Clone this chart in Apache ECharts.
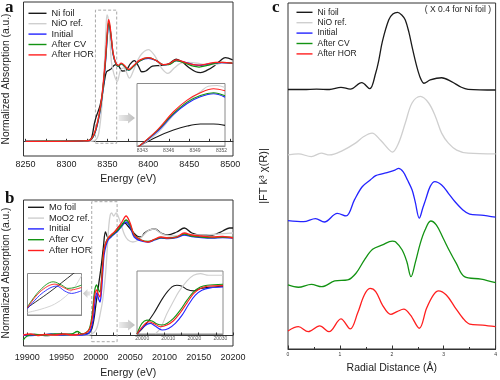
<!DOCTYPE html>
<html><head><meta charset="utf-8">
<script src="https://cdn.jsdelivr.net/npm/echarts@6/dist/echarts.min.js"></script>
<style>html,body{margin:0;padding:0;background:#fff}#c{width:500px;height:380px}</style>
</head><body><div id="c"></div>
<script>
// ---------- Panel a: Ni K-edge XANES (Energy eV, normalized absorption) ----------
const aLabels = [8250, 8300, 8350, 8400, 8450, 8500];
const aTicks = [8250,8275,8300,8325,8350,8375,8400,8425,8450,8475,8500];
const aNames = ['Ni foil', 'NiO ref.', 'Initial', 'After CV', 'After HOR'];
const aNiFoil = [[8250,0],[8300,0],[8326,0.005],[8330,0.03],[8332,0.1],[8334,0.22],[8336,0.3],[8338,0.36],[8341,0.45],[8344,0.6],[8347,0.8],[8349,0.88],[8352,0.9],[8355,0.92],[8358,0.96],[8361,0.97],[8364,0.95],[8368,0.89],[8373,0.9],[8378,0.98],[8383,1.02],[8388,0.95],[8392,0.88],[8397,0.89],[8405,0.95],[8415,0.96],[8425,0.98],[8434,1.04],[8442,1.0],[8450,0.93],[8458,0.88],[8464,0.87],[8472,0.9],[8480,0.95],[8488,1.02],[8494,1.06],[8503,1.03]];
const aNiO = [[8250,0],[8330,0],[8336,0.02],[8339,0.08],[8342,0.3],[8344,0.55],[8346,0.9],[8348,1.35],[8349.5,1.6],[8351,1.55],[8353,1.3],[8355,1.0],[8358,0.85],[8362,0.76],[8366,0.9],[8370,0.93],[8373,0.88],[8377,0.8],[8382,0.9],[8390,1.08],[8400,1.16],[8408,1.08],[8416,0.93],[8424,0.86],[8432,0.93],[8440,0.99],[8450,1.0],[8460,0.99],[8470,0.97],[8480,0.97],[8490,0.99],[8503,1.0]];
const aInitial = [[8250,0],[8290,0],[8320,0.004],[8328,0.01],[8331,0.03],[8334,0.085],[8337,0.18],[8340,0.32],[8343,0.52],[8346,0.8],[8348,1.04],[8350,1.34],[8351.5,1.48],[8353,1.44],[8355,1.27],[8357,1.1],[8360,0.99],[8363,0.95],[8367,0.98],[8371,0.95],[8376,0.9],[8382,0.95],[8390,1.02],[8400,1.05],[8410,1.02],[8418,0.97],[8425,0.975],[8434,1.02],[8445,1.0],[8455,0.97],[8462,0.96],[8472,0.975],[8482,0.99],[8490,0.995],[8503,0.985]];
const aAfterCV = [[8250,0],[8290,0.003],[8320,0.005],[8328,0.01],[8331,0.035],[8334,0.09],[8337,0.19],[8340,0.33],[8343,0.53],[8346,0.82],[8348,1.06],[8350,1.36],[8351.5,1.5],[8353,1.45],[8355,1.28],[8357,1.11],[8360,0.99],[8363,0.95],[8367,0.98],[8371,0.95],[8376,0.9],[8382,0.95],[8390,1.02],[8400,1.06],[8410,1.02],[8418,0.97],[8425,0.97],[8434,1.02],[8445,0.99],[8455,0.95],[8462,0.94],[8472,0.96],[8482,0.99],[8490,1.0],[8503,0.99]];
const aAfterHOR = [[8250,0],[8290,0],[8320,0.005],[8328,0.01],[8331,0.04],[8334,0.1],[8337,0.2],[8340,0.35],[8343,0.55],[8346,0.85],[8348,1.1],[8350,1.4],[8351.5,1.54],[8353,1.48],[8355,1.3],[8357,1.12],[8360,1.0],[8363,0.96],[8367,0.99],[8371,0.96],[8376,0.91],[8382,0.96],[8390,1.03],[8400,1.06],[8410,1.02],[8418,0.97],[8425,0.98],[8434,1.03],[8445,1.0],[8455,0.97],[8462,0.965],[8472,0.98],[8482,1.0],[8490,1.0],[8503,0.99]];
const aBox = [8335.4, 8361.4, -0.025, 1.66];
// inset a (8343-8352 eV, relative units)
const aInLabels = [8343, 8346, 8349, 8352];
const aInNiFoil = [[8342.5,-1],[8344.7,14.9],[8346.55,25.5],[8348.1,31.9],[8349.6,35.1],[8351.1,35.1],[8352.4,33]];
const aInNiO = [[8342.5,-2],[8344.7,20.2],[8346.55,49.5],[8348.1,70.7],[8349.6,86.7],[8350.5,95.7],[8351.5,96.8],[8352.4,93.6]];
const aInInitial = [[8342.5,-2],[8344.7,22.9],[8346.55,50.5],[8348.1,68.1],[8349.6,78.7],[8351.1,83.5],[8352.4,78.2]];
const aInAfterCV = [[8342.5,-2],[8344.7,24.5],[8346.55,52.1],[8348.1,70.2],[8349.6,80.9],[8351.1,85.1],[8352.4,80.3]];
const aInAfterHOR = [[8342.5,-2],[8344.7,25.5],[8346.55,54.8],[8348.1,73.4],[8349.6,85.1],[8351.1,91.5],[8352.4,88.3]];

// ---------- Panel b: Mo K-edge XANES ----------
const bLabels = [19900, 19950, 20000, 20050, 20100, 20150, 20200];
const bTicks = [19900,19925,19950,19975,20000,20025,20050,20075,20100,20125,20150,20175,20200];
const bNames = ['Mo foil', 'MoO2 ref.', 'Initial', 'After CV', 'After HOR'];
const bMoFoil = [[19894,0],[19910,0.005],[19930,-0.005],[19950,0.01],[19970,0.0],[19985,0.01],[19990,0.02],[19994,0.06],[19997,0.15],[20000,0.3],[20004,0.5],[20008,0.7],[20011,0.88],[20014,1.03],[20017,0.98],[20020,0.97],[20024,1.0],[20030,1.05],[20036,1.1],[20042,1.12],[20048,1.08],[20054,1.03],[20060,0.99],[20066,0.98],[20071,1.02],[20078,1.05],[20086,1.06],[20095,1.02],[20105,1.0],[20118,1.03],[20129,1.07],[20140,1.02],[20154,1.0],[20170,1.0],[20185,1.04],[20195,1.07],[20200,1.07]];
const bMoO2 = [[19894,0],[19950,0.0],[19990,0.0],[19998,0.03],[20002,0.08],[20006,0.2],[20010,0.35],[20014,0.6],[20017,0.9],[20019,1.1],[20021,1.2],[20023,1.22],[20026,1.19],[20029.5,1.22],[20033,1.18],[20037,1.1],[20042,1.0],[20047,0.95],[20054,0.93],[20062,0.95],[20071,1.01],[20078,1.05],[20086,1.06],[20092,1.03],[20100,1.0],[20115,0.99],[20130,1.0],[20154,1.0],[20178,1.01],[20200,1.02]];
const bInitial = [[19894,0.0],[19905,-0.005],[19920,0.0],[19935,0.01],[19950,0.0],[19965,0.005],[19980,0.0],[19988,0.01],[19992,0.04],[19996,0.15],[19999,0.35],[20001.5,0.42],[20004,0.36],[20006,0.33],[20008,0.42],[20010,0.62],[20012,0.8],[20015,0.9],[20018,0.95],[20022,0.98],[20027,1.01],[20032,1.04],[20038,1.09],[20044,1.13],[20050,1.08],[20056,0.98],[20066,0.94],[20076,0.93],[20086,0.95],[20095,0.97],[20105,0.965],[20118,0.975],[20129,1.0],[20140,0.985],[20154,0.975],[20170,0.97],[20185,0.975],[20200,0.97]];
const bAfterCV = [[19894,-0.05],[19900,-0.01],[19910,0.005],[19925,0.0],[19940,0.01],[19955,0.005],[19965,0.01],[19973,0.035],[19980,0.01],[19987,0.03],[19991,0.07],[19995,0.22],[19998,0.43],[20001,0.5],[20003.5,0.46],[20006,0.43],[20008,0.53],[20010,0.72],[20012,0.86],[20015,0.93],[20018,0.97],[20022,0.99],[20027,1.02],[20032,1.05],[20038,1.1],[20044,1.15],[20050,1.1],[20056,1.0],[20066,0.95],[20076,0.935],[20086,0.955],[20095,0.975],[20105,0.97],[20118,0.98],[20129,1.01],[20140,0.99],[20154,0.98],[20170,0.975],[20185,0.98],[20200,0.975]];
const bAfterHOR = [[19894,0],[19905,0.01],[19915,-0.005],[19925,0.005],[19940,0.0],[19955,0.01],[19965,0.0],[19975,0.005],[19985,0.02],[19991,0.06],[19995,0.18],[19998,0.38],[20001,0.45],[20003.5,0.41],[20006,0.38],[20008,0.5],[20010,0.7],[20012,0.86],[20015,0.93],[20018,0.97],[20022,1.0],[20027,1.03],[20032,1.07],[20038,1.13],[20044,1.19],[20050,1.12],[20056,1.0],[20066,0.95],[20076,0.93],[20086,0.96],[20095,0.98],[20105,0.97],[20118,0.98],[20129,1.02],[20140,1.0],[20154,0.99],[20170,0.98],[20185,0.985],[20200,0.97]];
const bBox = [19994, 20031, -0.067, 1.333];
// left inset b (pre-edge region, relative units)
const bLMoFoil = [[19998,18],[20003,56],[20008.2,100],[20009,106]];
const bLMoO2 = [[19998,6],[20001,14],[20004,26],[20006.5,45],[20008.5,68],[20010,95]];
const bLInitial = [[19998,15.2],[20001.2,52],[20004.5,69.6],[20006.3,57.6],[20007.8,52],[20010,58.4]];
const bLAfterCV = [[19998,20],[20000.8,60],[20003.7,80],[20005.6,72],[20007,64],[20008.5,66.4],[20010,72]];
const bLAfterHOR = [[19998,17.6],[20000.8,56],[20004.1,74.4],[20006,66.4],[20007.4,60],[20010,66.4]];
// right inset b (20000-20030 eV, relative units)
const bRLabels = [20000, 20010, 20020, 20030];
const bRMoFoil = [[19998,0],[20001.2,14.2],[20004.4,32.6],[20008.2,58.9],[20011.4,74.7],[20013.3,77.4],[20015.3,75.8],[20017.2,70.5],[20019.7,68.4],[20022.3,72.1],[20024.9,73.7],[20031,75.8]];
const bRMoO2 = [[20005,0],[20007,9],[20009.5,32.6],[20012,52],[20014,66.8],[20017.2,84.2],[20019.7,93.2],[20022.3,95.8],[20025.5,93.2],[20031,93.2]];
const bRInitial = [[19998,0],[20000.6,11.6],[20003.1,16.8],[20005,12.6],[20007.6,6.3],[20010.1,8.9],[20012.7,16.8],[20015.3,30],[20017.8,46.8],[20020.4,61.6],[20022.9,69.5],[20026.1,73.2],[20031,74.7]];
const bRAfterCV = [[19998,0],[19999.9,16.8],[20001.8,22.1],[20003.75,20.5],[20005.7,15.8],[20007.6,14.2],[20009.5,16.8],[20012,24.7],[20014.6,37.9],[20017.2,53.7],[20019.7,66.8],[20022.3,74.7],[20024.9,77.4],[20031,78.9]];
const bRAfterHOR = [[19998,0],[20000.6,14.2],[20002.5,19.5],[20004.4,16.8],[20007,11.6],[20009.5,14.2],[20012,21],[20014.6,33.7],[20017.2,49.5],[20019.7,64.2],[20022.3,72.1],[20024.9,75.8],[20031,76.8]];

// ---------- Panel c: FT-EXAFS (R in Å), stacked with offsets ----------
const cNames = ['Ni foil', 'NiO ref.', 'Initial', 'After CV', 'After HOR'];
const cOffsets = [75.0, 56.1, 37.1, 18.5, 5.2];
const cNiFoil = [[0,0],[0.3,0],[0.55,0.1],[0.8,0],[1.02,0.64],[1.2,0.1],[1.42,1.97],[1.575,0.23],[1.69,4.77],[1.75,8.5],[1.82,14.0],[1.94,20.1],[2.02,21.8],[2.11,22.3],[2.2,21.4],[2.26,20.1],[2.33,16.5],[2.39,12.4],[2.45,8.5],[2.51,5.1],[2.56,3.0],[2.62,1.8],[2.74,2.75],[2.96,3.4],[3.15,2.3],[3.34,0.64],[3.47,0.06],[4.0,-0.14]];
const cNiO = [[0,0],[0.2,0.3],[0.45,-0.5],[0.64,0.5],[0.8,0],[1.05,1.25],[1.3,3.4],[1.46,5.3],[1.62,6.3],[1.78,4.3],[1.94,1.6],[2.01,0.8],[2.13,3.4],[2.26,9.2],[2.39,15.0],[2.55,16.9],[2.71,15.0],[2.84,11.1],[2.96,6.3],[3.09,3.4],[3.25,1.4],[3.47,0.5],[4.0,0.3]];
const cInitial = [[0,0],[0.3,-0.3],[0.53,0.6],[0.7,-0.4],[0.95,2.1],[1.12,1.35],[1.28,6.0],[1.43,9.8],[1.59,11.8],[1.69,13.0],[1.81,13.5],[1.94,14.0],[2.06,14.6],[2.13,15.1],[2.22,14.1],[2.3,11.8],[2.39,8.9],[2.45,5.5],[2.53,0.7],[2.6,3.8],[2.65,6.0],[2.74,9.9],[2.83,11.3],[2.96,10.3],[3.09,7.9],[3.21,5.6],[3.37,3.1],[3.5,1.9],[3.72,1.6],[4.0,1.0]];
const cAfterCV = [[0,0],[0.2,-0.66],[0.45,0.2],[0.65,-0.5],[0.9,1.16],[1.15,1.45],[1.31,3.4],[1.47,7.2],[1.63,10.3],[1.82,11.6],[2.01,12.7],[2.07,12.5],[2.2,10.1],[2.29,6.7],[2.37,2.4],[2.45,6.3],[2.55,12.1],[2.64,15.9],[2.75,18.5],[2.86,17.3],[2.99,13.5],[3.12,9.6],[3.24,6.3],[3.4,2.4],[3.72,1.7],[4.0,0.66]];
const cAfterHOR = [[0,0],[0.2,1.24],[0.39,-0.2],[0.61,1.5],[0.79,-0.2],[1.02,3.5],[1.2,0.6],[1.34,5.1],[1.47,10.4],[1.58,12.3],[1.69,11.4],[1.82,7.5],[1.98,4.8],[2.1,5.6],[2.23,6.3],[2.36,4.6],[2.53,0.8],[2.67,6.6],[2.8,10.4],[2.9,11.6],[3.05,10.4],[3.21,7.0],[3.37,3.7],[3.5,2.0],[3.75,1.7],[4.0,1.24]];

const COLORS = ['#1a1a1a', '#cfcfcf', '#2424ff', '#139313', '#ff1f1f'];
const FONT = 'Liberation Sans, Arial, sans-serif';
const plain = v => String(v);

function ln(name, data, ci, idx, w, extra) {
  return Object.assign({
    type: 'line', name: name, data: data, xAxisIndex: idx, yAxisIndex: idx,
    symbol: 'none', showSymbol: false, smooth: 0.35, clip: true, silent: true,
    lineStyle: { color: COLORS[ci], width: w }, itemStyle: { color: COLORS[ci] }
  }, extra || {});
}
function boxArea(b) {
  return { silent: true, itemStyle: { color: 'rgba(0,0,0,0)', borderColor: '#a8a8a8', borderWidth: 1, borderType: [3, 2] },
    data: [[{ xAxis: b[0], yAxis: b[2] }, { xAxis: b[1], yAxis: b[3] }]] };
}

const series = [];
[aNiFoil, aNiO, aInitial, aAfterCV, aAfterHOR].forEach((d, i) => series.push(ln(aNames[i], d, i, 0, 1.3, i === 0 ? { markArea: boxArea(aBox) } : null)));
[aInNiFoil, aInNiO, aInInitial, aInAfterCV, aInAfterHOR].forEach((d, i) => series.push(ln(aNames[i], d, i, 1, 1.1)));
[bMoFoil, bMoO2, bInitial, bAfterCV, bAfterHOR].forEach((d, i) => series.push(ln(bNames[i], d, i, 2, 1.3, i === 0 ? { markArea: boxArea(bBox) } : null)));
[bLMoFoil, bLMoO2, bLInitial, bLAfterCV, bLAfterHOR].forEach((d, i) => series.push(ln(bNames[i], d, i, 3, 0.9)));
[bRMoFoil, bRMoO2, bRInitial, bRAfterCV, bRAfterHOR].forEach((d, i) => series.push(ln(bNames[i], d, i, 4, 1.1)));
[cNiFoil, cNiO, cInitial, cAfterCV, cAfterHOR].forEach((d, i) =>
  series.push(ln(cNames[i], d.map(p => [p[0], p[1] + cOffsets[i]]), i, 5, 1.3)));

const mainGrid = { show: true, borderColor: '#333', borderWidth: 1, backgroundColor: 'transparent' };
const insetGrid = { show: true, borderColor: '#8a8a8a', borderWidth: 1, backgroundColor: '#fff' };
const grids = [
  Object.assign({ left: 23, top: 2, width: 210, height: 154 }, mainGrid),
  Object.assign({ left: 137, top: 83.5, width: 88, height: 62.5 }, insetGrid),
  Object.assign({ left: 23, top: 200, width: 210, height: 146 }, mainGrid),
  Object.assign({ left: 27.5, top: 273.5, width: 54, height: 41.5 }, insetGrid),
  Object.assign({ left: 137, top: 271, width: 86, height: 63 }, insetGrid),
  Object.assign({ left: 288, top: 3, width: 209, height: 346 }, mainGrid)
];

function mainX(min, max, labels, ticks, name, margin, gap) {
  return { type: 'value', min: min, max: max, splitLine: { show: false },
    axisLine: { show: true, lineStyle: { color: '#333', width: 1 } },
    axisTick: { show: true, inside: true, length: 2.5, customValues: ticks, lineStyle: { color: '#333' } },
    axisLabel: { customValues: labels, formatter: plain, fontSize: 9, margin: margin, color: '#222', fontFamily: FONT },
    name: name, nameLocation: 'middle', nameGap: gap, nameTextStyle: { fontSize: 10.5, color: '#222', fontFamily: FONT } };
}
function insetX(idx, min, max, labels) {
  return { type: 'value', gridIndex: idx, min: min, max: max, splitLine: { show: false },
    axisLine: { show: true, lineStyle: { color: '#8a8a8a', width: 1 } }, axisTick: { show: false },
    axisLabel: labels ? { customValues: labels, formatter: plain, fontSize: 5, margin: 2, color: '#555', fontFamily: FONT } : { show: false } };
}
function hiddenY(idx, min, max) { return { type: 'value', gridIndex: idx, min: min, max: max, show: false }; }
function namedY(idx, min, max, name, gap, fs) {
  return { type: 'value', gridIndex: idx, min: min, max: max, splitLine: { show: false },
    axisLine: { show: false }, axisTick: { show: false }, axisLabel: { show: false },
    name: name, nameLocation: 'middle', nameGap: gap, nameRotate: 90,
    nameTextStyle: { fontSize: fs, color: '#222', fontFamily: FONT } };
}

const xAxes = [
  Object.assign(mainX(8247.5, 8503.5, aLabels, aTicks, 'Energy (eV)', 4, 18), { gridIndex: 0 }),
  insetX(1, 8342.4, 8352.4, aInLabels),
  Object.assign(mainX(19894.5, 20200, bLabels, bTicks, 'Energy (eV)', 7, 21.5), { gridIndex: 2 }),
  insetX(3, 19998, 20010, null),
  insetX(4, 19998, 20031, bRLabels),
  { type: 'value', gridIndex: 5, min: 0, max: 4, interval: 1, splitLine: { show: false },
    axisLine: { show: true, lineStyle: { color: '#333' } },
    axisTick: { show: true, inside: true, length: 3.5, lineStyle: { color: '#333' } },
    minorTick: { show: true, splitNumber: 2, length: 2, lineStyle: { color: '#333' } },
    axisLabel: { formatter: plain, fontSize: 5, margin: 3, color: '#333', fontFamily: FONT },
    name: 'Radial Distance (Å)', nameLocation: 'middle', nameGap: 14,
    nameTextStyle: { fontSize: 10.5, color: '#222', fontFamily: FONT } }
];
const yAxes = [
  namedY(0, -0.186, 1.763, 'Normalized Absorption (a.u.)', 12.5, 10.3),
  hiddenY(1, 0, 100),
  namedY(2, -0.11, 1.35, 'Normalized Absorption (a.u.)', 12.5, 10.3),
  hiddenY(3, 0, 100),
  hiddenY(4, 0, 100),
  namedY(5, 0, 100, '|FT k³ χ(R)|', 19, 11)
];

function legend(left, top, names, itemWidth, gap, fs) {
  return { orient: 'vertical', left: left, top: top, padding: 0, itemWidth: itemWidth, itemHeight: 1.4,
    icon: 'rect', itemGap: gap, selectedMode: false, data: names,
    textStyle: { fontSize: fs, lineHeight: 10, color: '#222', fontFamily: FONT } };
}

const chart = echarts.init(document.getElementById('c'), null, { renderer: 'canvas' });
chart.setOption({
  animation: false,
  backgroundColor: '#fff',
  textStyle: { fontFamily: FONT },
  grid: grids, xAxis: xAxes, yAxis: yAxes, series: series,
  legend: [legend(28.5, 8.3, aNames, 18, 0.4, 9.2), legend(28, 202.3, bNames, 16, 0.8, 9.2), legend(296.5, 7.3, cNames, 16, 0.4, 8.5)]
});

// decorations: panel letters, note, arrows (positions derived from boxes / insets)
function px(gi, x, y) { return chart.convertToPixel({ gridIndex: gi }, [x, y]); }
const aBoxR = px(0, aBox[1], 0)[0];
const bBoxR = px(2, bBox[1], 0)[0];
const bBoxL = px(2, bBox[0], 0)[0];
function arrowRight(x0, x1, yc) {
  const hx = x1 - 7;
  return { type: 'polygon', silent: true,
    shape: { points: [[x0, yc - 3], [hx, yc - 3], [hx, yc - 5.5], [x1, yc], [hx, yc + 5.5], [hx, yc + 3], [x0, yc + 3]] },
    style: { fill: new echarts.graphic.LinearGradient(0, 0, 1, 0, [{ offset: 0, color: '#ececec' }, { offset: 1, color: '#bdbdbd' }]) } };
}
function arrowLeft(x0, x1, yc) {
  const hx = x0 + 4.5;
  return { type: 'polygon', silent: true,
    shape: { points: [[x0, yc], [hx, yc - 4.5], [hx, yc - 2], [x1, yc - 2], [x1, yc + 2], [hx, yc + 2], [hx, yc + 4.5]] },
    style: { fill: new echarts.graphic.LinearGradient(0, 0, 1, 0, [{ offset: 0, color: '#c4c4c4' }, { offset: 1, color: '#eaeaea' }]) } };
}
chart.setOption({
  graphic: [
    { type: 'text', left: 5, top: -1, style: { text: 'a', font: 'bold 17px "Liberation Serif", serif', fill: '#111' } },
    { type: 'text', left: 5, top: 190, style: { text: 'b', font: 'bold 17px "Liberation Serif", serif', fill: '#111' } },
    { type: 'text', left: 272, top: -1, style: { text: 'c', font: 'bold 17px "Liberation Serif", serif', fill: '#111' } },
    { type: 'text', right: 9, top: 5, style: { text: '( X 0.4 for Ni foil )', font: '8.5px "Liberation Sans", Arial, sans-serif', fill: '#222' } },
    arrowRight(aBoxR + 2, grids[1].left - 2, 118),
    arrowRight(bBoxR + 2, grids[4].left - 2, 325),
    arrowLeft(grids[3].left + grids[3].width + 1.5, bBoxL - 1.5, 293.5)
  ]
});
</script></body></html>
